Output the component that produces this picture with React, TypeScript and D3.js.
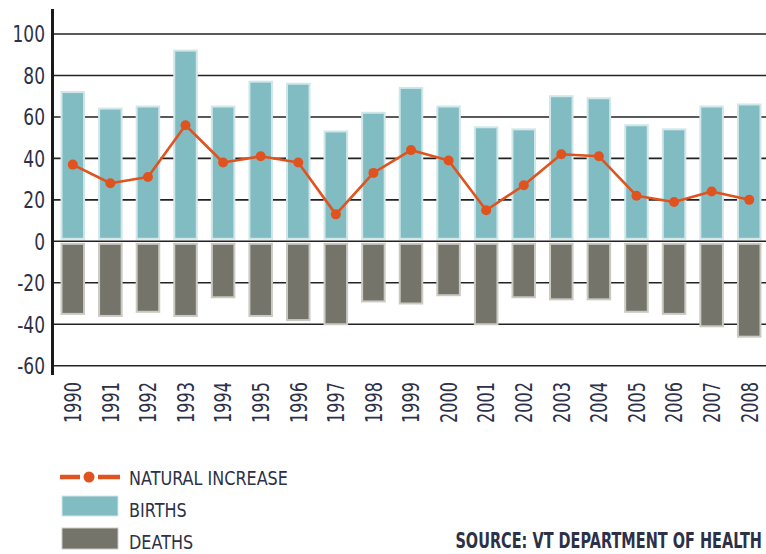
import React from "react";
import * as d3 from "d3";

const years = ["1990","1991","1992","1993","1994","1995","1996","1997","1998","1999","2000","2001","2002","2003","2004","2005","2006","2007","2008"];
const births = [72, 64, 65, 92, 65, 77, 76, 53, 62, 74, 65, 55, 54, 70, 69, 56, 54, 65, 66];
const deaths = [-35, -36, -34, -36, -27, -36, -38, -40, -29, -30, -26, -40, -27, -28, -28, -34, -35, -41, -46];
const naturalIncrease = [37, 28, 31, 56, 38, 41, 38, 13, 33, 44, 39, 15, 27, 42, 41, 22, 19, 24, 20];
const yTicks = [100, 80, 60, 40, 20, 0, -20, -40, -60];
const legendLabels = ["NATURAL INCREASE", "BIRTHS", "DEATHS"];
const sourceText = "SOURCE: VT DEPARTMENT OF HEALTH";

const W = 766;
const H = 554;
const FONT = "'DejaVu Sans', sans-serif";
const TEXT_COLOR = "#2d3148";
const BIRTH = "#82bcc3";
const BIRTH_HALO = "#cfe7e9";
const DEATH = "#75746b";
const DEATH_HALO = "#cacac3";
const ORANGE = "#e0531f";

export default function App() {
  const axisX = 52.5;
  const x = d3.scaleBand<string>().domain(years).range([54, 768]).paddingInner(0.4).paddingOuter(0.2);
  const y = d3.scaleLinear().domain([-60, 100]).range([365.7, 34]);
  const y0 = y(0);
  const bw = x.bandwidth();
  const cx = (yr: string) => (x(yr) as number) + bw / 2;

  const line = d3
    .line<number>()
    .x((_, i) => cx(years[i]))
    .y((d) => y(d));

  return (
    <svg width={W} height={H} style={{ position: "absolute", left: 0, top: 0, background: "#fff" }}>
      {/* gridlines */}
      {yTicks.map((t) => (
        <line key={"g" + t} x1={axisX} x2={W} y1={y(t)} y2={y(t)} stroke="#222" strokeWidth={1.6} />
      ))}
      {/* births */}
      {years.map((yr, i) => (
        <rect
          key={"b" + yr}
          x={x(yr)}
          width={bw}
          y={y(births[i])}
          height={y0 - 2.5 - y(births[i])}
          fill={BIRTH}
          stroke={BIRTH_HALO}
          strokeWidth={2}
        />
      ))}
      {/* deaths */}
      {years.map((yr, i) => (
        <rect
          key={"d" + yr}
          x={x(yr)}
          width={bw}
          y={y0 + 2.5}
          height={y(deaths[i]) - y0 - 2.5}
          fill={DEATH}
          stroke={DEATH_HALO}
          strokeWidth={2}
        />
      ))}
      {/* natural increase line */}
      <path d={line(naturalIncrease) || ""} fill="none" stroke={ORANGE} strokeWidth={2.6} strokeLinejoin="round" />
      {naturalIncrease.map((v, i) => (
        <circle key={"n" + i} cx={cx(years[i])} cy={y(v)} r={5} fill={ORANGE} />
      ))}
      {/* y axis */}
      <line x1={axisX} x2={axisX} y1={9} y2={375} stroke="#1a1a1a" strokeWidth={3} />
      {yTicks.map((t) => (
        <text
          key={"yt" + t}
          transform={`translate(45,${y(t)}) scale(0.74,1)`}
          dy="0.36em"
          textAnchor="end"
          fontFamily={FONT}
          fontSize={23}
          fill={TEXT_COLOR}
        >
          {t}
        </text>
      ))}
      {/* x labels */}
      {years.map((yr) => (
        <text
          key={"xl" + yr}
          transform={`translate(${cx(yr)},382) rotate(-90) scale(0.7,1)`}
          dy="0.36em"
          textAnchor="end"
          fontFamily={FONT}
          fontSize={23}
          fill={TEXT_COLOR}
        >
          {yr}
        </text>
      ))}
      {/* legend */}
      <g>
        <line x1={60} x2={80} y1={477} y2={477} stroke={ORANGE} strokeWidth={4.5} />
        <line x1={98} x2={120} y1={477} y2={477} stroke={ORANGE} strokeWidth={4.5} />
        <circle cx={89} cy={477} r={5.5} fill={ORANGE} />
        <rect x={62} y={496} width={56} height={20} fill={BIRTH} stroke={BIRTH_HALO} strokeWidth={1} />
        <rect x={62} y={528} width={56} height={21} fill={DEATH} stroke={DEATH_HALO} strokeWidth={1} />
        {legendLabels.map((l, i) => (
          <text
            key={l}
            transform={`translate(129,${485 + i * 32}) scale(0.8,1)`}
            fontFamily={FONT}
            fontSize={20}
            fill={TEXT_COLOR}
          >
            {l}
          </text>
        ))}
      </g>
      <text
        transform="translate(762,548) scale(0.69,1)"
        textAnchor="end"
        fontFamily={FONT}
        fontSize={21}
        fontWeight="bold"
        fill={TEXT_COLOR}
      >
        {sourceText}
      </text>
    </svg>
  );
}
